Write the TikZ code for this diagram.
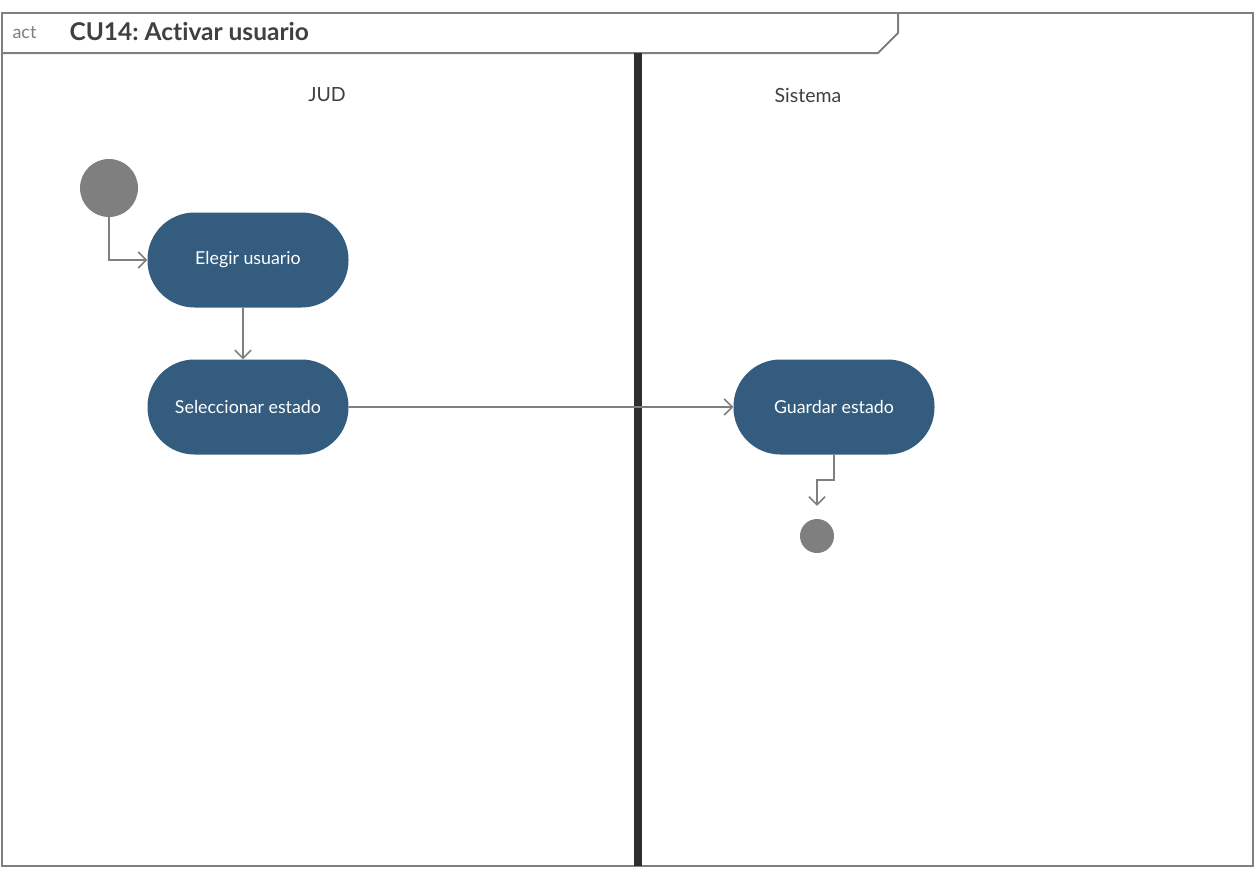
\documentclass[tikz,border=0pt]{standalone}
\usepackage{fontspec}
\setmainfont{Lato}[Ligatures=NoCommon]
\usepackage{xcolor}
\usetikzlibrary{arrows.meta}
\usetikzlibrary{positioning}
\definecolor{actblue}{HTML}{345C7E}
\definecolor{umlgray}{HTML}{7F7F7F}
\definecolor{lanebar}{HTML}{2D2D2D}
\definecolor{labelgray}{HTML}{404040}
\frenchspacing
\tikzset{
  actividad/.style={rectangle, rounded corners=47pt, fill=actblue, text=white,
    minimum width=201pt, minimum height=95pt, inner sep=0pt, font=\fontsize{17.8}{21}\selectfont},
  flujo/.style={draw=umlgray, line width=1.6pt, -{Straight Barb[length=8pt,width=16pt,line width=1.6pt]}},
  carril/.style={text=labelgray, font=\fontsize{19.5}{23}\selectfont}
}

\begin{document}
\begin{tikzpicture}[x=1pt, y=-1pt]
                      \useasboundingbox (0,0) rectangle (1255,868);
                      \fill[white] (0,0) rectangle (1255,868);
                      \def\botval{866}
                      % marco del diagrama
                      \draw[umlgray, line width=2pt] (2,13) rectangle (1253,\botval);
                      \draw[umlgray, line width=2pt] (2,53) -- (878,53) -- (898,33) -- (898,13);
                      \node[anchor = west, text=umlgray, font=\fontsize{18}{21}\selectfont] (act) at (9,33) {act};
                      \node[anchor = west, text=labelgray, font=\fontsize{24.5}{29}\selectfont\bfseries] (titulo) at (66,32) {CU14: Activar usuario};

                      % carriles
                      \draw[lanebar, line width=8pt] (638,53) -- (638,\botval);
                      \node[carril] (jud) at (327,95) {JUD};
                      \node[carril] (sistema) at (808,95) {Sistema};

                      \node[circle, fill=umlgray, minimum size=58pt, inner sep=0pt] (inicio) at (109,188) {};
                      \node[actividad] (elegir) at (248,260) {Elegir usuario};
                      \node[actividad] (seleccionar) at (248,407) {Seleccionar estado};
                      \node[actividad] (guardar) at (834,407) {Guardar estado};
                      \node[circle, fill=umlgray, minimum size=34pt, inner sep=0pt] (fin) at (817,536) {};

                      \draw[flujo] (inicio.south) |- (elegir.west);
                      \draw[flujo] ([xshift=-5pt]elegir.south) -- ([xshift=-5pt]seleccionar.north);
                      \draw[flujo] (seleccionar.east) -- (guardar.west);
                      \draw[flujo, shorten >=13pt] (guardar.south) -- ++(0,25) -| (fin.north);
                    \end{tikzpicture}
\end{document}
